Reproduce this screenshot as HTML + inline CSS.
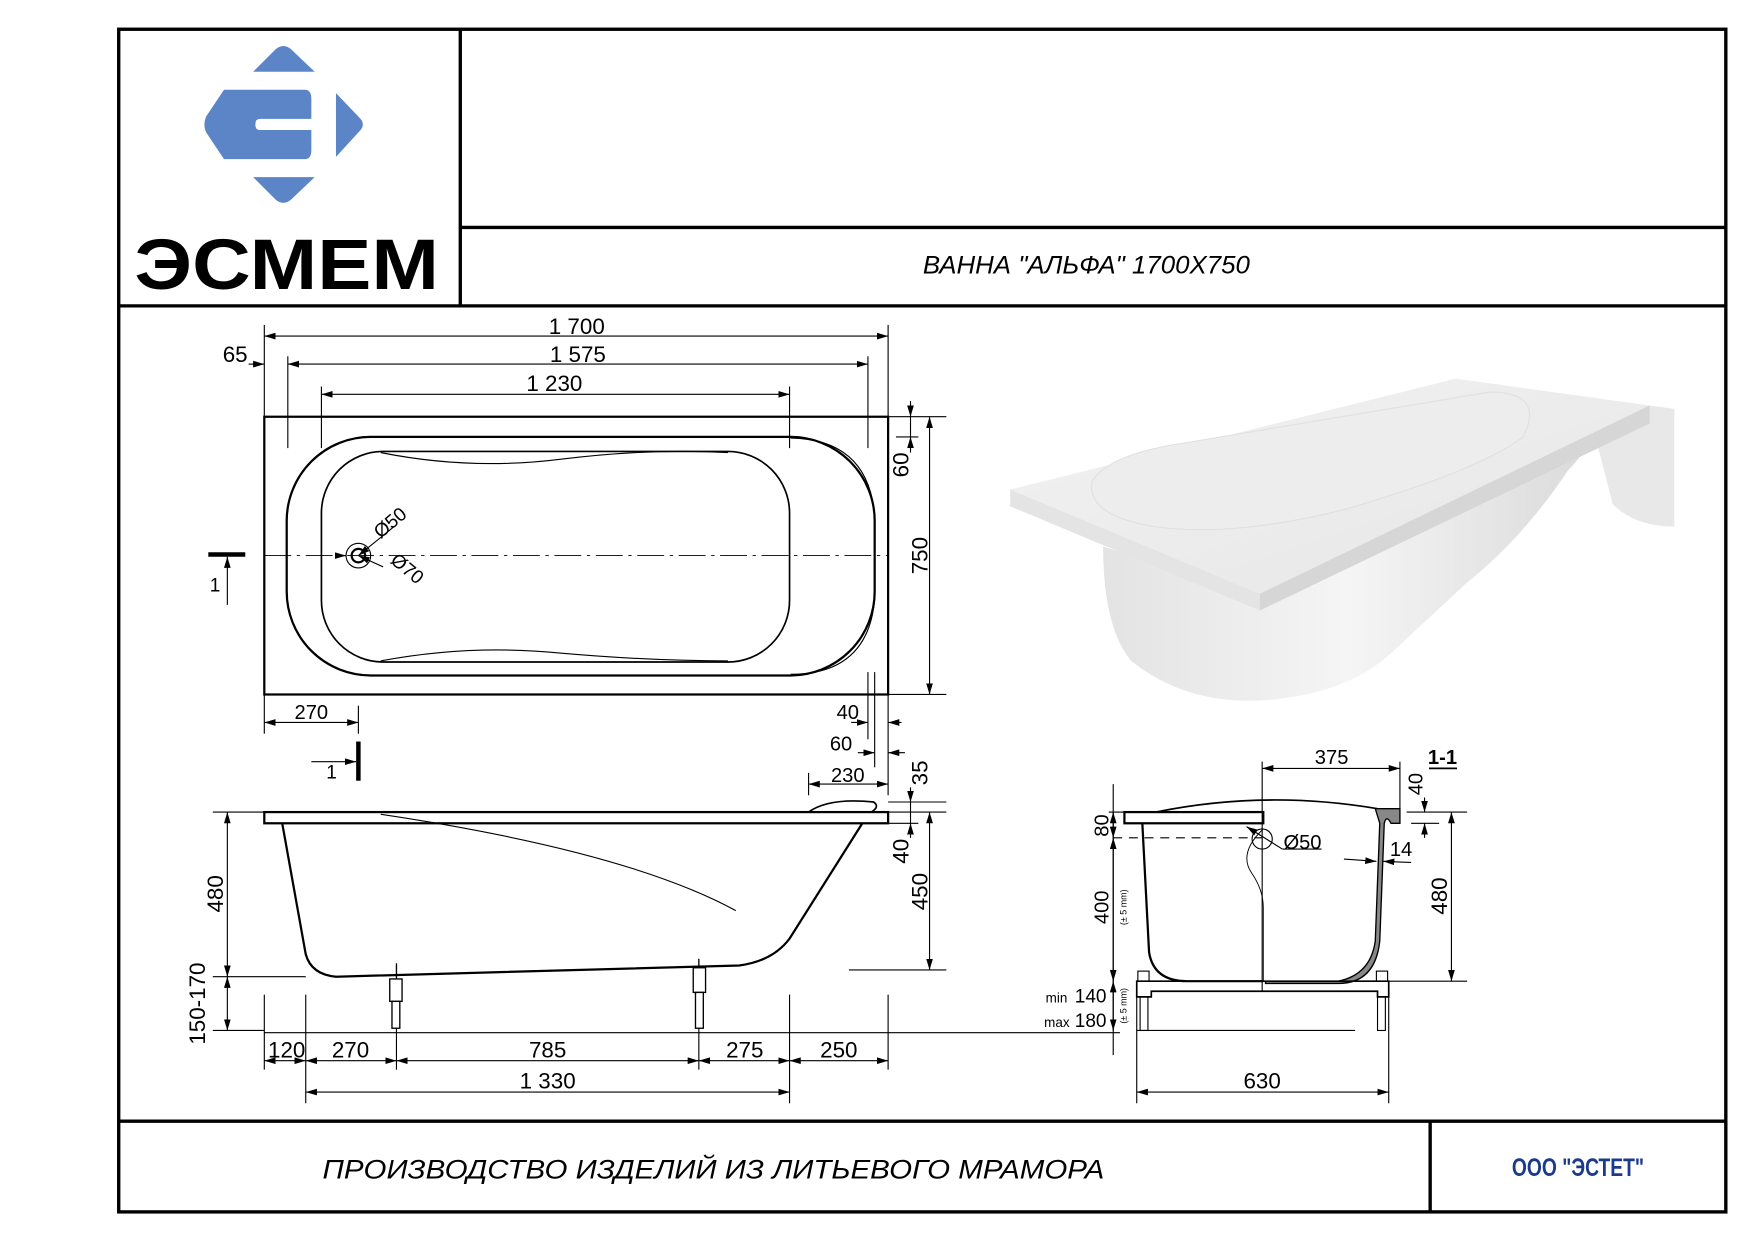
<!DOCTYPE html>
<html><head><meta charset="utf-8"><style>
html,body{margin:0;padding:0;background:#fff}
svg{display:block}
text{font-family:"Liberation Sans",sans-serif;fill:#000}
</style></head><body>
<svg width="1755" height="1240" viewBox="0 0 1560 1102" xmlns="http://www.w3.org/2000/svg">
<defs>
<marker id="a" viewBox="0 0 10 6" refX="10" refY="3" markerWidth="10" markerHeight="6" markerUnits="userSpaceOnUse" orient="auto-start-reverse"><path d="M0,0L10,3L0,6z" fill="#000"/></marker>
<linearGradient id="g1" x1="0" y1="0" x2="1" y2="1"><stop offset="0" stop-color="#f2f2f2"/><stop offset="1" stop-color="#e6e6e6"/></linearGradient>
<linearGradient id="g2" x1="0" y1="0" x2="1" y2="0"><stop offset="0" stop-color="#e3e3e3"/><stop offset="0.5" stop-color="#f5f5f5"/><stop offset="1" stop-color="#dadada"/></linearGradient>
</defs>
<rect width="1560" height="1102" fill="#fff"/>
<g transform="scale(0.9955)">
<!-- frame -->
<g stroke="#000" stroke-width="3" fill="none">
<rect x="106" y="26" width="1435" height="1056"/>
<line x1="411" y1="26" x2="411" y2="273"/>
<line x1="411" y1="203" x2="1541" y2="203"/>
<line x1="106" y1="273" x2="1541" y2="273"/>
<line x1="106" y1="1001" x2="1541" y2="1001"/>
<line x1="1277" y1="1001" x2="1277" y2="1082"/>
</g>
<!-- logo -->
<g fill="#5b85c6">
<path d="M226,64 L246,44 Q253,38 260,44 L281,64 Z"/>
<path d="M226,158 L281,158 L260,178 Q253,184 246,178 Z"/>
<path d="M200,80 L272,80 Q278,80 278,88 L278,106 L232,106 Q228,106 228,111 Q228,116 232,116 L278,116 L278,134 Q278,142 272,142 L200,142 L184,118 Q181,111 184,104 Z"/>
<path d="M300,83 L322,106 Q326,111 322,116 L300,140 Z"/>
</g>
<text x="120" y="258" font-size="64" font-weight="bold" textLength="272" lengthAdjust="spacingAndGlyphs" fill="#1a1a1a">ЭСМЕМ</text>
<!-- titles -->
<text x="970" y="244" font-size="22" font-style="italic" text-anchor="middle" textLength="292" lengthAdjust="spacingAndGlyphs">ВАННА "АЛЬФА" 1700X750</text>
<text x="288" y="1052" font-size="24" font-style="italic" textLength="698" lengthAdjust="spacingAndGlyphs">ПРОИЗВОДСТВО ИЗДЕЛИЙ ИЗ ЛИТЬЕВОГО МРАМОРА</text>
<text x="1350" y="1050" font-size="22" font-weight="bold" textLength="118" lengthAdjust="spacingAndGlyphs" style="fill:#1a3a8a">ООО "ЭСТЕТ"</text>

<!-- 3D render -->
<g>
<path d="M985,488 Q985,560 1010,590 Q1060,630 1130,625 Q1200,620 1240,585 L1310,520 Q1360,480 1400,420 Q1420,400 1422,380 L1125,530 Z" fill="url(#g2)"/>
<path d="M1422,380 L1473,362 L1495,365 L1495,470 Q1460,470 1440,450 Z" fill="#e8e8e8"/>
<path d="M902,437 L1300,338 L1473,362 L1125,530 Z" fill="url(#g1)"/>
<path d="M902,437 L1125,530 L1125,545 L902,452 Z" fill="#e4e4e4"/>
<path d="M1125,530 L1473,362 L1473,378 L1125,545 Z" fill="#d6d6d6"/>
<path d="M975,430 Q990,405 1060,395 L1330,350 Q1380,350 1360,390 Q1320,420 1200,455 Q1100,480 1030,470 Q970,460 975,430 Z" fill="#ededed" stroke="#e0e0e0"/>
</g>

<g stroke="#000" fill="none" stroke-width="1">
<!-- plan view -->
<rect x="236" y="372" width="557" height="248" stroke-width="2"/>
<rect x="256" y="390" width="525" height="213" rx="75" stroke-width="2"/>
<path d="M706,391 Q775,392 781,460 L781,535 Q775,602 706,602" />
<rect x="287" y="403" width="418" height="188" rx="55" stroke-width="1.5"/>
<path d="M340,404 Q420,420 500,410 Q580,400 650,404" />
<path d="M340,590 Q420,575 500,583 Q580,590 650,590" />
<line x1="236" y1="496" x2="793" y2="496" stroke-dasharray="24,5,3,5" stroke-width="0.8"/>
<circle cx="320" cy="496" r="11"/>
<circle cx="320" cy="496" r="6" stroke-width="2"/>
<line x1="320" y1="496" x2="352" y2="470" marker-start="url(#a)"/>
<line x1="320" y1="496" x2="342" y2="506" marker-start="url(#a)"/>
<line x1="300" y1="496" x2="309" y2="496" marker-end="url(#a)"/>
<!-- top dims -->
<line x1="236" y1="290" x2="236" y2="400"/><line x1="793" y1="290" x2="793" y2="372"/>
<line x1="257" y1="318" x2="257" y2="400"/><line x1="775" y1="318" x2="775" y2="400"/>
<line x1="287" y1="345" x2="287" y2="400"/><line x1="705" y1="345" x2="705" y2="400"/>
<line x1="236" y1="300" x2="793" y2="300" marker-start="url(#a)" marker-end="url(#a)"/>
<line x1="257" y1="325" x2="775" y2="325" marker-start="url(#a)" marker-end="url(#a)"/>
<line x1="287" y1="352" x2="705" y2="352" marker-start="url(#a)" marker-end="url(#a)"/>
<line x1="222" y1="325" x2="236" y2="325" marker-end="url(#a)"/>
<!-- right dims -->
<line x1="793" y1="372" x2="845" y2="372"/><line x1="793" y1="620" x2="845" y2="620"/>
<line x1="800" y1="390" x2="820" y2="390"/>
<line x1="830" y1="372" x2="830" y2="620" marker-start="url(#a)" marker-end="url(#a)"/>
<line x1="813" y1="358" x2="813" y2="372" marker-end="url(#a)"/>
<line x1="813" y1="404" x2="813" y2="390" marker-end="url(#a)"/>
<line x1="813" y1="372" x2="813" y2="390"/>
<!-- bottom plan dims -->
<line x1="236" y1="620" x2="236" y2="655"/><line x1="320" y1="630" x2="320" y2="655"/>
<line x1="236" y1="645" x2="320" y2="645" marker-start="url(#a)" marker-end="url(#a)"/>
<line x1="775" y1="600" x2="775" y2="660"/><line x1="781" y1="600" x2="781" y2="685"/><line x1="793" y1="620" x2="793" y2="710"/>
<line x1="760" y1="645" x2="775" y2="645" marker-end="url(#a)"/><line x1="805" y1="645" x2="793" y2="645" marker-end="url(#a)"/>
<line x1="766" y1="672" x2="781" y2="672" marker-end="url(#a)"/><line x1="808" y1="672" x2="793" y2="672" marker-end="url(#a)"/>
<line x1="722" y1="690" x2="722" y2="710"/>
<line x1="722" y1="700" x2="793" y2="700" marker-start="url(#a)" marker-end="url(#a)"/>
<!-- section markers -->
<line x1="186" y1="495" x2="219" y2="495" stroke-width="4"/>
<line x1="203" y1="540" x2="203" y2="497" marker-end="url(#a)"/>
<line x1="320" y1="662" x2="320" y2="697" stroke-width="4"/>
<line x1="278" y1="680" x2="318" y2="680" marker-end="url(#a)"/>

<!-- side view -->
<rect x="236" y="725" width="557" height="10" stroke-width="2"/>
<path d="M722,725 Q740,712 780,716 Q786,720 778,725" stroke-width="1.5"/>
<path d="M252,735 L273,852 Q278,870 300,872 L660,862 Q690,858 705,838 L770,735" stroke-width="2"/>
<path d="M340,727 Q560,760 657,813"/>
<g stroke-width="1.2">
<rect x="348" y="874" width="11" height="20"/><line x1="354" y1="860" x2="354" y2="874"/><rect x="350" y="894" width="7" height="24"/>
<rect x="619" y="864" width="11" height="22"/><line x1="624" y1="856" x2="624" y2="864"/><rect x="621" y="886" width="7" height="32"/>
</g>
<line x1="190" y1="725" x2="236" y2="725"/><line x1="190" y1="872" x2="273" y2="872"/><line x1="190" y1="920" x2="236" y2="920"/>
<line x1="203" y1="725" x2="203" y2="872" marker-start="url(#a)" marker-end="url(#a)"/>
<line x1="203" y1="872" x2="203" y2="920" marker-start="url(#a)" marker-end="url(#a)"/>
<line x1="793" y1="716" x2="845" y2="716"/><line x1="793" y1="725" x2="845" y2="725"/><line x1="793" y1="735" x2="820" y2="735"/>
<line x1="758" y1="866" x2="845" y2="866"/>
<line x1="830" y1="725" x2="830" y2="866" marker-start="url(#a)" marker-end="url(#a)"/>
<line x1="813" y1="703" x2="813" y2="716" marker-end="url(#a)"/>
<line x1="813" y1="748" x2="813" y2="735" marker-end="url(#a)"/>
<line x1="813" y1="716" x2="813" y2="735"/>
<!-- floor line -->
<line x1="236" y1="922" x2="1000" y2="922"/>
<!-- bottom dims -->
<line x1="236" y1="888" x2="236" y2="955"/><line x1="273" y1="888" x2="273" y2="985"/><line x1="354" y1="918" x2="354" y2="955"/>
<line x1="624" y1="918" x2="624" y2="955"/><line x1="705" y1="888" x2="705" y2="985"/><line x1="793" y1="888" x2="793" y2="955"/>
<line x1="236" y1="947" x2="273" y2="947" marker-start="url(#a)" marker-end="url(#a)"/>
<line x1="273" y1="947" x2="354" y2="947" marker-start="url(#a)" marker-end="url(#a)"/>
<line x1="354" y1="947" x2="624" y2="947" marker-start="url(#a)" marker-end="url(#a)"/>
<line x1="624" y1="947" x2="705" y2="947" marker-start="url(#a)" marker-end="url(#a)"/>
<line x1="705" y1="947" x2="793" y2="947" marker-start="url(#a)" marker-end="url(#a)"/>
<line x1="273" y1="975" x2="705" y2="975" marker-start="url(#a)" marker-end="url(#a)"/>

<!-- section view -->
<rect x="1004" y="725" width="124" height="10" stroke-width="2"/>
<path d="M1032,725 Q1130,705 1230,722" stroke-width="1.5"/>
<path d="M1020,735 L1026,850 Q1030,876 1060,876 L1128,876" stroke-width="2"/>
<path d="M1128,740 Q1105,762 1118,780 Q1128,795 1128,810 L1128,876" stroke-width="0.8"/>
<path d="M1130,876 L1195,876 Q1224,870 1228,840 L1232,735 L1228,722 L1250,722 L1250,735 L1242,735 Q1238,727 1236,735 L1232,840 Q1228,878 1195,878 L1130,878 Z" fill="#888" stroke-width="1.2"/>
<line x1="1127" y1="680" x2="1127" y2="885"/>
<line x1="994" y1="748" x2="1127" y2="748" stroke-dasharray="8,6"/>
<circle cx="1127" cy="749" r="9"/>
<line x1="1113" y1="738" x2="1145" y2="758" marker-start="url(#a)"/>
<line x1="1145" y1="758" x2="1180" y2="758"/>
<line x1="1200" y1="767" x2="1229" y2="769" marker-end="url(#a)"/>
<line x1="1260" y1="770" x2="1235" y2="769" marker-end="url(#a)"/>
<!-- legs frame -->
<path d="M1015,876 L1240,876 L1240,890 L1230,890 L1230,885 L1028,885 L1028,890 L1015,890 Z" stroke-width="1.5"/>
<rect x="1016" y="867" width="10" height="9" stroke-width="1"/><rect x="1229" y="867" width="10" height="9" stroke-width="1"/>
<rect x="1018" y="890" width="7" height="30" stroke-width="1"/><rect x="1230" y="890" width="7" height="30" stroke-width="1"/>
<line x1="1015" y1="920" x2="1210" y2="920"/>
<!-- section dims -->
<line x1="1127" y1="686" x2="1250" y2="686" marker-start="url(#a)" marker-end="url(#a)"/>
<line x1="1250" y1="680" x2="1250" y2="722"/>
<line x1="1256" y1="725" x2="1310" y2="725"/><line x1="1260" y1="735" x2="1285" y2="735"/>
<line x1="1240" y1="876" x2="1310" y2="876"/>
<line x1="1296" y1="725" x2="1296" y2="876" marker-start="url(#a)" marker-end="url(#a)"/>
<line x1="1272" y1="712" x2="1272" y2="725" marker-end="url(#a)"/>
<line x1="1272" y1="748" x2="1272" y2="735" marker-end="url(#a)"/>
<line x1="994" y1="700" x2="994" y2="942"/>
<line x1="990" y1="725" x2="1004" y2="725"/>
<line x1="994" y1="725" x2="994" y2="748" marker-start="url(#a)" marker-end="url(#a)"/>
<line x1="994" y1="748" x2="994" y2="876" marker-start="url(#a)" marker-end="url(#a)"/>
<line x1="994" y1="876" x2="994" y2="920" marker-start="url(#a)" marker-end="url(#a)"/>
<line x1="1015" y1="890" x2="1015" y2="985"/><line x1="1240" y1="890" x2="1240" y2="985"/>
<line x1="1015" y1="975" x2="1240" y2="975" marker-start="url(#a)" marker-end="url(#a)"/>
<line x1="1276" y1="686" x2="1301" y2="686" stroke-width="1.5"/>
</g>

<!-- labels -->
<g font-size="20">
<text x="515" y="298" text-anchor="middle">1 700</text>
<text x="516" y="323" text-anchor="middle">1 575</text>
<text x="495" y="349" text-anchor="middle">1 230</text>
<text x="210" y="323" text-anchor="middle">65</text>
<text x="811" y="415" transform="rotate(-90 811 415)" text-anchor="middle">60</text>
<text x="828" y="496" transform="rotate(-90 828 496)" text-anchor="middle">750</text>
<text x="278" y="642" text-anchor="middle" font-size="18">270</text>
<text x="757" y="642" text-anchor="middle" font-size="18">40</text>
<text x="751" y="670" text-anchor="middle" font-size="18">60</text>
<text x="757" y="698" text-anchor="middle" font-size="18">230</text>
<text x="828" y="690" transform="rotate(-90 828 690)" text-anchor="middle">35</text>
<text x="811" y="760" transform="rotate(-90 811 760)" text-anchor="middle">40</text>
<text x="828" y="796" transform="rotate(-90 828 796)" text-anchor="middle">450</text>
<text x="199" y="798" transform="rotate(-90 199 798)" text-anchor="middle">480</text>
<text x="183" y="896" transform="rotate(-90 183 896)" text-anchor="middle">150-170</text>
<text x="256" y="944" text-anchor="middle">120</text>
<text x="313" y="944" text-anchor="middle">270</text>
<text x="489" y="944" text-anchor="middle">785</text>
<text x="665" y="944" text-anchor="middle">275</text>
<text x="749" y="944" text-anchor="middle">250</text>
<text x="489" y="972" text-anchor="middle">1 330</text>
<text x="192" y="528" text-anchor="middle" font-size="17">1</text>
<text x="296" y="695" text-anchor="middle" font-size="17">1</text>
<text x="352" y="471" transform="rotate(-40 352 471)" text-anchor="middle" font-size="17">Ø50</text>
<text x="360" y="512" transform="rotate(40 360 512)" text-anchor="middle" font-size="17">Ø70</text>
<text x="1189" y="682" text-anchor="middle" font-size="18">375</text>
<text x="1288" y="682" text-anchor="middle" font-size="18" font-weight="bold">1-1</text>
<text x="1270" y="700" transform="rotate(-90 1270 700)" text-anchor="middle" font-size="18">40</text>
<text x="1163" y="758" text-anchor="middle" font-size="18">Ø50</text>
<text x="1251" y="764" text-anchor="middle" font-size="18">14</text>
<text x="1292" y="800" transform="rotate(-90 1292 800)" text-anchor="middle">480</text>
<text x="990" y="737" transform="rotate(-90 990 737)" text-anchor="middle" font-size="18">80</text>
<text x="990" y="810" transform="rotate(-90 990 810)" text-anchor="middle" font-size="18">400</text>
<text x="1006" y="810" transform="rotate(-90 1006 810)" text-anchor="middle" font-size="8">(± 5 mm)</text>
<text x="1006" y="898" transform="rotate(-90 1006 898)" text-anchor="middle" font-size="8">(± 5 mm)</text>
<text x="988" y="895" text-anchor="end" font-size="17">140</text>
<text x="953" y="895" text-anchor="end" font-size="12">min</text>
<text x="988" y="917" text-anchor="end" font-size="17">180</text>
<text x="955" y="917" text-anchor="end" font-size="12">max</text>
<text x="1127" y="972" text-anchor="middle">630</text>
</g>
</g>
</svg>
</body></html>
